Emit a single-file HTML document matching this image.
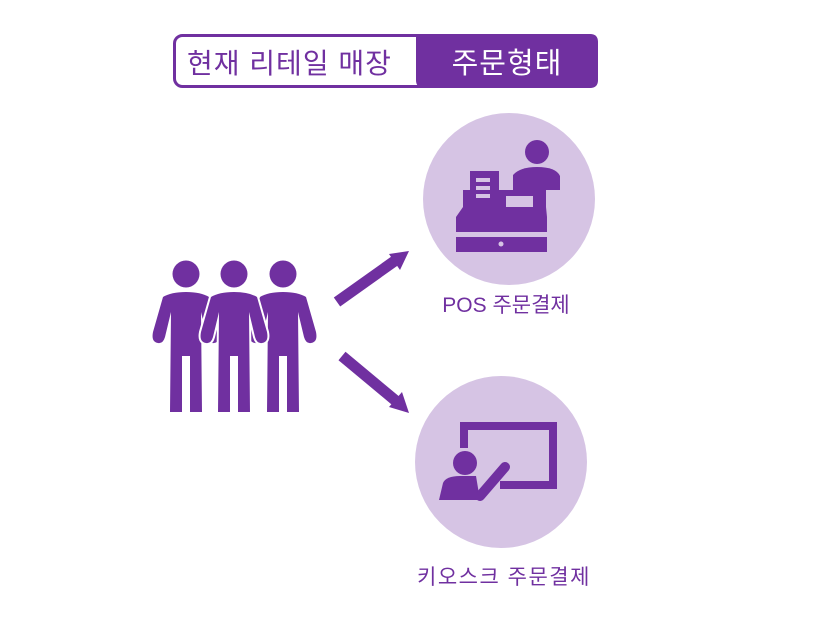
<!DOCTYPE html>
<html><head><meta charset="utf-8"><style>
html,body{margin:0;padding:0;background:#fff}
svg{display:block}
text{font-family:"Liberation Sans","Noto Sans CJK KR",sans-serif}
</style></head><body>
<svg width="818" height="618" viewBox="0 0 818 618" xmlns="http://www.w3.org/2000/svg">
<defs>
<g id="person">
  <circle cx="0" cy="0" r="13.5"/>
  <path d="M-23,23 Q-15,18 0,18 Q15,18 23,23 L33,58 Q35,68 28,69 Q23,70 21,63 L15,38 L16,138 L4,138 L4,82 L-4,82 L-4,138 L-16,138 L-15,38 L-21,63 Q-23,70 -28,69 Q-35,68 -33,58 Z"/>
</g>
</defs>
<rect x="174.5" y="35.5" width="422" height="51" rx="8" fill="#fff" stroke="#7030a0" stroke-width="3"/>
<path d="M416,34 H590 Q598,34 598,42 V80 Q598,88 590,88 H424 Q416,88 416,80 Z" fill="#7030a0"/>
<text x="187" y="73" font-size="28" fill="#7030a0" letter-spacing="1">현재 리테일 매장</text>
<text x="507" y="73" font-size="29" fill="#fff" text-anchor="middle" letter-spacing="1">주문형태</text>

<g fill="#7030a0">
  <use href="#person" x="186" y="274"/>
  <use href="#person" x="283" y="274"/>
  <use href="#person" x="234" y="274" stroke="#fff" stroke-width="4" paint-order="stroke"/>
</g>

<g fill="#7030a0" stroke="#7030a0">
  <line x1="337" y1="302" x2="396" y2="260" stroke-width="11"/>
  <polygon points="409,251 389,254 400,270" stroke="none"/>
  <line x1="342" y1="356" x2="396" y2="401" stroke-width="11"/>
  <polygon points="409,413 389,407 402,392" stroke="none"/>
</g>

<circle cx="509" cy="199" r="86" fill="#d6c4e4"/>
<g fill="#7030a0">
  <circle cx="537" cy="152" r="12"/>
  <path d="M513,190 V175 Q520,167 537,167 Q556,167 560,176 V190 Z"/>
  <path d="M463,190 H546 V207 L547,217 V232 H456 V217 L463,207 Z"/>
  <rect x="470" y="171" width="29" height="36"/>
  <rect x="456" y="237" width="91" height="15"/>
</g>
<g fill="#d6c4e4">
  <rect x="476" y="178" width="14" height="4"/>
  <rect x="476" y="186" width="14" height="4"/>
  <rect x="476" y="194" width="14" height="4"/>
  <rect x="506" y="196" width="27" height="11"/>
  <circle cx="501" cy="244" r="2.5"/>
</g>
<text x="506" y="312" font-size="21" fill="#7030a0" text-anchor="middle">POS 주문결제</text>

<circle cx="501" cy="462" r="86" fill="#d6c4e4"/>
<g fill="#7030a0" stroke="#7030a0">
  <path d="M464,448 V426 H553 V485 H500" fill="none" stroke-width="8"/>
  <circle cx="465" cy="463" r="12" stroke="none"/>
  <path d="M443,483 Q446,476 460,476 L476,476 L480,500 H439 Z" stroke="none"/>
  <line x1="480" y1="496" x2="505" y2="467" stroke-width="10" stroke-linecap="round"/>
</g>
<text x="504" y="584" font-size="21" fill="#7030a0" text-anchor="middle" letter-spacing="1.5">키오스크 주문결제</text>
</svg>
</body></html>
